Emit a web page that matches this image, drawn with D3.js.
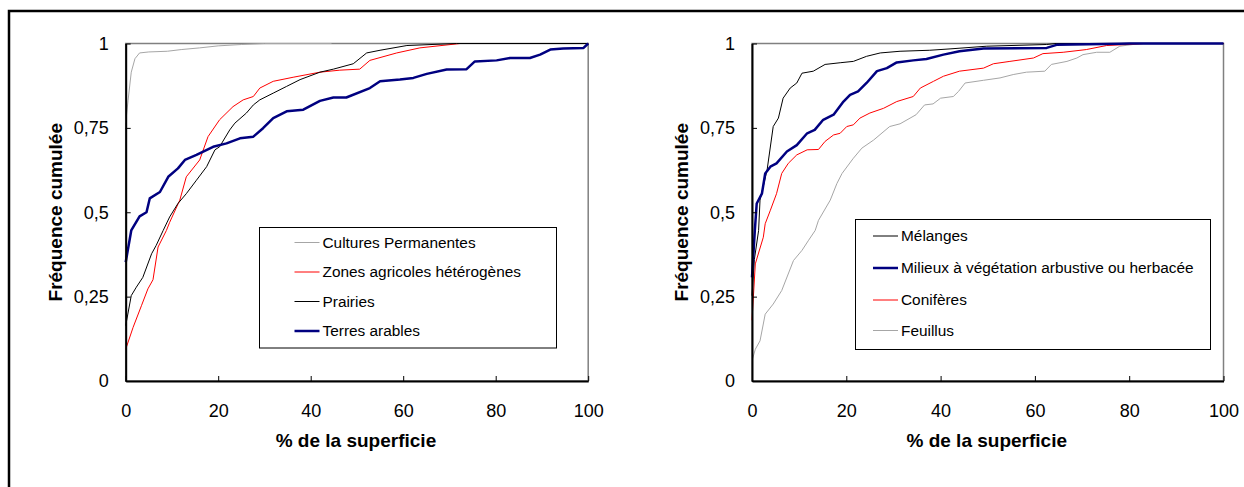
<!DOCTYPE html>
<html>
<head>
<meta charset="utf-8">
<script src="https://cdn.jsdelivr.net/npm/d3@7"></script>
<style>
  body { margin: 0; background: #fff; }
  svg { display: block; font-family: "Liberation Sans", Arial, sans-serif; }
</style>
</head>
<body>
<div id="chart"></div>
<script>
// ---- data (x = % de la superficie, y = fréquence cumulée) ----
const xTicks = [0, 20, 40, 60, 80, 100];
const yTicks = [0, 0.25, 0.5, 0.75, 1];

// left panel
const culturesPermanentes = [[0,0.765],[0.5,0.83],[1.2,0.915],[2,0.955],[3,0.972],[5,0.975],[9,0.977],[12,0.982],[16,0.987],[20,0.993],[25,0.997],[30,1],[44.5,1]];
const zonesAgricoles = [[0,0.094],[1.6,0.159],[3.4,0.223],[4.8,0.273],[5.9,0.3],[7,0.397],[8.8,0.446],[9.5,0.47],[11.7,0.536],[13.1,0.605],[16,0.655],[17.8,0.724],[20.3,0.774],[23.2,0.813],[25.4,0.833],[27.6,0.843],[29,0.868],[31.9,0.888],[36.2,0.9],[42,0.915],[46.3,0.921],[50.6,0.924],[52.8,0.95],[58.6,0.972],[63.6,0.987],[72.3,1],[100,1]];
const prairies = [[0,0.164],[1.2,0.253],[2.3,0.278],[3.7,0.307],[5.6,0.377],[6.6,0.402],[8.1,0.446],[9.5,0.486],[11.3,0.526],[13.1,0.555],[15.3,0.595],[17.5,0.635],[19.3,0.685],[20.3,0.694],[22.5,0.744],[23.6,0.764],[26.1,0.794],[27.6,0.818],[29,0.833],[31.9,0.853],[34.8,0.873],[37.7,0.893],[42,0.915],[44.9,0.924],[49.2,0.94],[52.1,0.972],[55,0.98],[60.8,0.994],[71.5,1],[100,1]];
const terresArables = [[0,0.352],[1.2,0.446],[3,0.488],[4.5,0.5],[5.2,0.541],[7.4,0.56],[9.2,0.605],[11.3,0.63],[12.8,0.655],[15.3,0.67],[18.9,0.694],[21.8,0.704],[24.7,0.719],[27.6,0.724],[29.7,0.749],[31.9,0.779],[34.8,0.799],[38.4,0.804],[42,0.83],[44.9,0.84],[47.7,0.84],[52.8,0.868],[55,0.888],[59.3,0.893],[62.2,0.898],[65.1,0.91],[69.4,0.923],[73.7,0.924],[75.5,0.947],[80.2,0.95],[83.1,0.957],[87.4,0.957],[89.6,0.967],[91.8,0.982],[94.6,0.985],[99,0.987],[100,1]];

// right panel
const melanges = [[0,0.253],[0.5,0.36],[1.4,0.446],[1.7,0.536],[3.2,0.625],[4.5,0.754],[5.6,0.779],[6.6,0.838],[8.1,0.868],[9.5,0.883],[10.6,0.912],[13,0.918],[15.5,0.938],[18.7,0.943],[21.5,0.947],[24.3,0.962],[27.2,0.972],[31.4,0.977],[37.7,0.98],[42,0.984],[49.8,0.992],[62.5,0.997],[64.5,1],[100,1]];
const milieux = [[0,0.307],[0.6,0.446],[1,0.526],[2.1,0.555],[2.8,0.615],[3.9,0.635],[5.2,0.645],[7.4,0.68],[9.5,0.699],[11.7,0.734],[13.3,0.744],[15.1,0.774],[17.3,0.789],[19.4,0.828],[20.8,0.848],[22.5,0.858],[24.3,0.883],[26.5,0.918],[28.6,0.927],[30.7,0.944],[34.2,0.95],[37,0.954],[40.6,0.967],[44,0.977],[49.1,0.985],[62.5,0.987],[64.6,0.996],[78,0.999],[80,1],[100,1]];
const coniferes = [[0,0.18],[0.7,0.347],[2.4,0.426],[2.8,0.466],[3.9,0.506],[5.2,0.555],[6.3,0.615],[7.7,0.645],[9.5,0.67],[11.7,0.685],[14.1,0.686],[15.5,0.71],[17.3,0.729],[18.7,0.734],[20.1,0.754],[21.5,0.759],[22.9,0.779],[25,0.794],[27.9,0.808],[30.7,0.828],[34.2,0.843],[35.7,0.868],[38.5,0.888],[40.6,0.903],[44,0.918],[49.1,0.927],[51.2,0.94],[54.7,0.947],[59.7,0.957],[61.7,0.97],[66,0.974],[70.9,0.982],[75.2,0.994],[80.8,0.998],[83,1],[100,1]];
const feuillus = [[0,0.06],[0.7,0.094],[1.7,0.119],[2.8,0.198],[4.5,0.228],[6.3,0.268],[8.8,0.357],[10.6,0.387],[12,0.417],[13.4,0.446],[14.1,0.476],[16.6,0.536],[18,0.585],[19.1,0.615],[21.5,0.66],[23.3,0.69],[25.8,0.714],[29.2,0.754],[31.4,0.762],[34.8,0.789],[36.6,0.818],[38.4,0.821],[40,0.838],[42.7,0.843],[43.8,0.858],[45.2,0.883],[49.1,0.891],[52.6,0.898],[55.4,0.908],[58.2,0.915],[62.1,0.918],[63.5,0.938],[66.8,0.947],[68.9,0.957],[70.2,0.967],[73.1,0.974],[75.9,0.974],[78,0.992],[80.8,0.997],[83,1],[98,1]];

const leftSeries = [
  {name: "Cultures Permanentes", values: culturesPermanentes, color: "#a6a6a6", width: 1},
  {name: "Zones agricoles hétérogènes", values: zonesAgricoles, color: "#ff0000", width: 1},
  {name: "Prairies", values: prairies, color: "#000000", width: 1},
  {name: "Terres arables", values: terresArables, color: "#000080", width: 2.5}
];
const rightSeries = [
  {name: "Mélanges", values: melanges, color: "#000000", width: 1},
  {name: "Milieux à végétation arbustive ou herbacée", values: milieux, color: "#000080", width: 2.5},
  {name: "Conifères", values: coniferes, color: "#ff0000", width: 1},
  {name: "Feuillus", values: feuillus, color: "#a6a6a6", width: 1}
];
const drawOrderRight = [3, 2, 0, 1];

const W = 1244, H = 487;

const svg = d3.select("#chart").append("svg")
    .attr("width", W)
    .attr("height", H);

// outer frame (clipped at right and bottom)
svg.append("path")
    .attr("d", "M9," + (H + 5) + " L9,11 L" + (W + 5) + ",11")
    .attr("fill", "none")
    .attr("stroke", "#000")
    .attr("stroke-width", 2.5);

const fmt = d => String(d).replace(".", ",");

function drawPanel(cfg) {
    let g = svg.append("g");

    let x = d3.scaleLinear().domain([0, 100]).range([cfg.left, cfg.right]);
    let y = d3.scaleLinear().domain([0, 1]).range([381, 43.5]);

    // plot area border (top / right)
    g.append("rect")
        .attr("x", cfg.left).attr("y", y(1))
        .attr("width", cfg.right - cfg.left).attr("height", y(0) - y(1))
        .attr("fill", "none")
        .attr("stroke", "#808080")
        .attr("stroke-width", 1.5);

    let line = d3.line()
        .x(d => x(d[0]))
        .y(d => y(d[1]));

    cfg.order.forEach(i => {
        let s = cfg.series[i];
        g.append("path")
            .datum(s.values)
            .attr("d", line)
            .attr("fill", "none")
            .attr("stroke", s.color)
            .attr("stroke-width", s.width)
            .attr("stroke-linejoin", "round");
    });

    // axes
    let xAxis = d3.axisBottom(x).tickValues(xTicks).tickSize(-5).tickSizeOuter(0).tickPadding(23).tickFormat(d => d);
    let yAxis = d3.axisLeft(y).tickValues(yTicks).tickSize(-5).tickSizeOuter(0).tickPadding(17).tickFormat(fmt);

    let gx = g.append("g").attr("transform", "translate(0," + y(0) + ")").call(xAxis);
    let gy = g.append("g").attr("transform", "translate(" + cfg.left + ",0)").call(yAxis);

    [gx, gy].forEach(a => {
        a.attr("font-family", null).attr("font-size", 18);
        a.select(".domain").attr("stroke", "#000").attr("stroke-width", 2);
        a.selectAll(".tick line").attr("stroke", "#000").attr("stroke-width", 1);
        a.selectAll(".tick text").attr("fill", "#000");
    });

    // titles
    g.append("text")
        .attr("x", (cfg.left + cfg.right) / 2 - 1)
        .attr("y", 447)
        .attr("text-anchor", "middle")
        .attr("font-weight", "bold")
        .attr("font-size", 19)
        .text("% de la superficie");

    g.append("text")
        .attr("transform", "translate(" + (cfg.left - 64) + "," + ((y(0) + y(1)) / 2) + ") rotate(-90)")
        .attr("text-anchor", "middle")
        .attr("font-weight", "bold")
        .attr("font-size", 19)
        .text("Fréquence cumulée");

    // legend
    let lg = g.append("g");
    lg.append("rect")
        .attr("x", cfg.legend.x).attr("y", cfg.legend.y)
        .attr("width", cfg.legend.w).attr("height", cfg.legend.h)
        .attr("fill", "#fff")
        .attr("stroke", "#000")
        .attr("stroke-width", 1);

    cfg.series.forEach((s, i) => {
        let ry = cfg.legend.rows[i];
        lg.append("line")
            .attr("x1", cfg.legend.x + cfg.legend.sx).attr("x2", cfg.legend.x + cfg.legend.sx + 25)
            .attr("y1", ry).attr("y2", ry)
            .attr("stroke", s.color)
            .attr("stroke-width", s.width);
        lg.append("text")
            .attr("x", cfg.legend.x + cfg.legend.sx + 28)
            .attr("y", ry)
            .attr("dy", "0.35em")
            .attr("font-size", 15.4)
            .text(s.name);
    });
}

drawPanel({
    left: 125.7, right: 588.2,
    series: leftSeries, order: [0, 1, 2, 3],
    legend: {x: 259.5, y: 227.5, w: 297, h: 120.5, sx: 35, rows: [242.5, 272, 301.5, 331]}
});

drawPanel({
    left: 752, right: 1223.5,
    series: rightSeries, order: drawOrderRight,
    legend: {x: 855.5, y: 219.5, w: 355, h: 130, sx: 17.5, rows: [236, 268, 300, 330.5]}
});
</script>
</body>
</html>
